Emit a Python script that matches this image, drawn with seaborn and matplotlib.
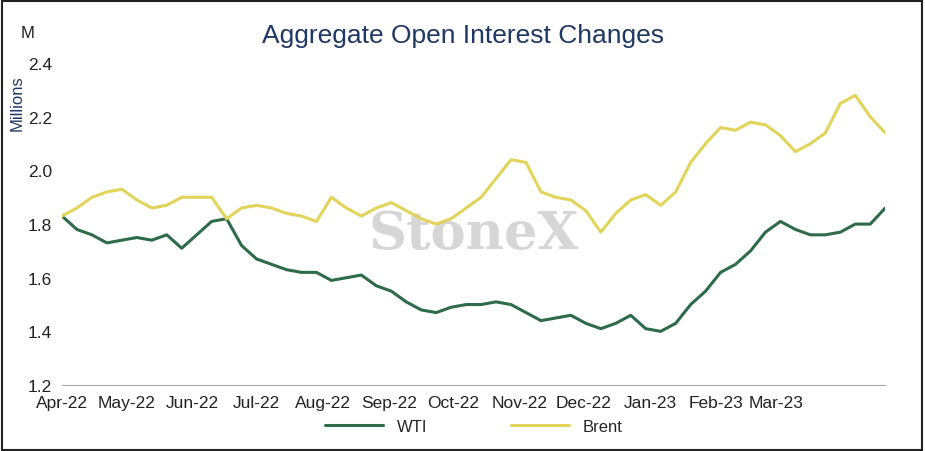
import pandas as pd
import matplotlib.pyplot as plt
import matplotlib.dates as mdates
import seaborn as sns

# --Daten (wöchentlich)--
wochen = pd.date_range("2022-04-01", "2023-04-21", freq="7D")
wti = [1.83, 1.78, 1.76, 1.73, 1.74, 1.75, 1.74, 1.76, 1.71, 1.76, 1.81, 1.82, 1.72,
       1.67, 1.65, 1.63, 1.62, 1.62, 1.59, 1.60, 1.61, 1.57, 1.55, 1.51, 1.48, 1.47,
       1.49, 1.50, 1.50, 1.51, 1.50, 1.47, 1.44, 1.45, 1.46, 1.43, 1.41, 1.43, 1.46,
       1.41, 1.40, 1.43, 1.50, 1.55, 1.62, 1.65, 1.70, 1.77, 1.81, 1.78, 1.76, 1.76,
       1.77, 1.80, 1.80, 1.86]
brent = [1.83, 1.86, 1.90, 1.92, 1.93, 1.89, 1.86, 1.87, 1.90, 1.90, 1.90, 1.82, 1.86,
         1.87, 1.86, 1.84, 1.83, 1.81, 1.90, 1.86, 1.83, 1.86, 1.88, 1.85, 1.82, 1.80,
         1.82, 1.86, 1.90, 1.97, 2.04, 2.03, 1.92, 1.90, 1.89, 1.85, 1.77, 1.84, 1.89,
         1.91, 1.87, 1.92, 2.03, 2.10, 2.16, 2.15, 2.18, 2.17, 2.13, 2.07, 2.10, 2.14,
         2.25, 2.28, 2.20, 2.14]
monate = pd.date_range("2022-04-01", "2023-03-01", freq="MS")

daten = pd.DataFrame({"Datum": wochen, "WTI": wti, "Brent": brent})

sns.set_style("white")
plt.rcParams["font.family"] = ["Liberation Sans", "DejaVu Sans"]
fig, ax = plt.subplots(figsize=(9.25, 4.52), dpi=100)
fig.subplots_adjust(left=0.067, right=0.957, top=0.858, bottom=0.146)

sns.lineplot(data=daten, x="Datum", y="WTI", ax=ax, color="#2e6b4a", linewidth=2.2, label="WTI")
sns.lineplot(data=daten, x="Datum", y="Brent", ax=ax, color="#e2d35a", linewidth=2.2, label="Brent")

ax.set_ylim(1.2, 2.4)
ax.set_yticks([1.2, 1.4, 1.6, 1.8, 2.0, 2.2, 2.4])
ax.set_xlim(pd.Timestamp("2022-04-01"), pd.Timestamp("2023-04-21"))
ax.set_xticks(monate)
ax.xaxis.set_major_formatter(mdates.DateFormatter("%b-%y"))
ax.tick_params(labelsize=12.5, colors="#222222")
ax.set_xlabel("")
ax.set_ylabel("Millions", fontsize=12, color="#1f3864")
ax.yaxis.set_label_coords(-0.045, 0.88)
for s in ["top", "right", "left"]:
    ax.spines[s].set_visible(False)
ax.spines["bottom"].set_color("#aaaaaa")

ax.text(0.5, 0.47, "StoneX", transform=ax.transAxes, fontsize=38, family="serif",
        fontweight="bold", color="#bbbbbb", alpha=0.6, ha="center", va="center", zorder=0)

fig.text(0.5, 0.905, "Aggregate Open Interest Changes", fontsize=19, color="#1f3864", ha="center")
fig.text(0.022, 0.915, "M", fontsize=12, color="#222222")

ax.legend(loc="upper center", bbox_to_anchor=(0.5, -0.06), ncol=2, frameon=False, fontsize=12,
          handlelength=3.5, columnspacing=5)

rahmen = plt.Rectangle((0.002, 0.003), 0.995, 0.993, transform=fig.transFigure,
                       fill=False, edgecolor="#222222", linewidth=1.5)
fig.patches.append(rahmen)

plt.savefig("out.png", dpi=100)
